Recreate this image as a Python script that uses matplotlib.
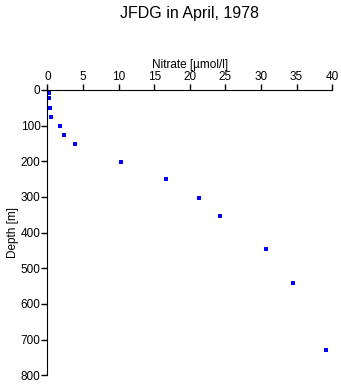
import matplotlib
matplotlib.use("Agg")
import matplotlib.pyplot as plt

plt.rcParams['font.family'] = ['Liberation Sans', 'DejaVu Sans']

# Nitrate profile, JFDG April 1978
nitrate = [0.2, 0.25, 0.25, 0.4, 0.5, 1.8, 2.4, 3.9, 10.3, 16.6, 21.3, 24.2, 30.7, 34.5, 39.1]
depth = [0, 9, 23, 51, 76, 101, 126, 151, 201, 251, 304, 353, 445, 541, 729]

xticks = [0, 5, 10, 15, 20, 25, 30, 35, 40]
yticks = [0, 100, 200, 300, 400, 500, 600, 700, 800]

fig = plt.figure(figsize=(3.41, 3.84), dpi=100)
ax = fig.add_axes([0.139, 0.023, 0.835, 0.743])

ax.plot(nitrate, depth, 's', color='#0000ff', markersize=2.2, markeredgewidth=0)

ax.set_xlim(0, 40)
ax.set_ylim(800, 0)
ax.set_xticks(xticks)
ax.set_yticks(yticks)

ax.xaxis.tick_top()
ax.xaxis.set_label_position('top')
ax.spines['right'].set_visible(False)
ax.spines['bottom'].set_visible(False)
ax.spines['left'].set_bounds(800, -12)
ax.tick_params(direction='out', length=4, width=1, labelsize=8.5, pad=1)

ax.set_xlabel('Nitrate [µmol/l]', fontsize=8.5, labelpad=2)
ax.set_ylabel('Depth [m]', fontsize=8.5, labelpad=1)
fig.suptitle('JFDG in April, 1978', x=0.557, y=0.985, fontsize=11.5)

fig.savefig('out.png', dpi=100)
